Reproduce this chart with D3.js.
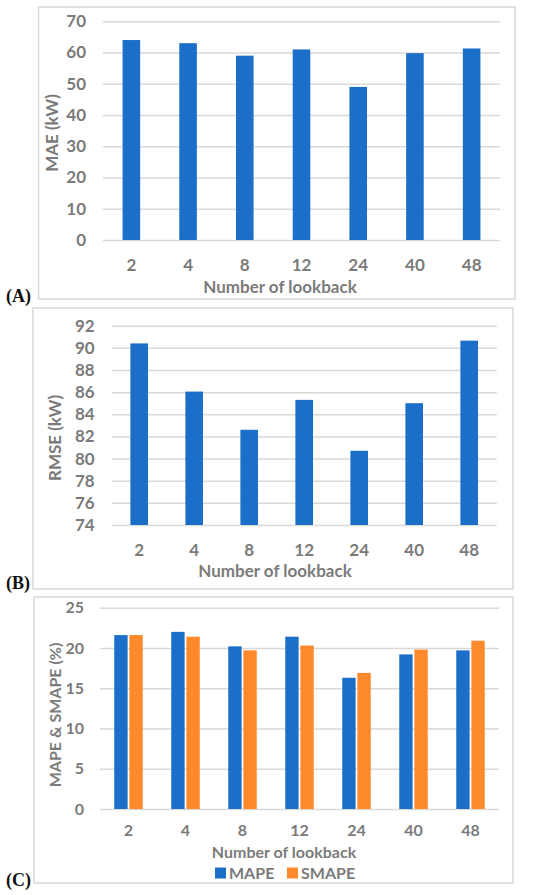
<!DOCTYPE html>
<html>
<head>
<meta charset="utf-8">
<script src="https://cdn.jsdelivr.net/npm/d3@7"></script>
<style>
  body { margin: 0; background: #fff; }
  svg { display: block; }
  text { font-family: Lato, "Open Sans", sans-serif; font-weight: 700; fill: #7b7b7b; }
  .panel-label { font-family: "Liberation Serif", "DejaVu Serif", serif; fill: #111; }
</style>
</head>
<body>
<svg id="chart" width="550" height="895"></svg>
<script>
// data
const lookbacks = ['2', '4', '8', '12', '24', '40', '48'];
const maeValues = [64.0, 63.0, 59.0, 61.0, 49.0, 59.8, 61.3];
const rmseValues = [90.4, 86.05, 82.6, 85.3, 80.7, 85.0, 90.65];
const mapeValues = [21.6, 22.0, 20.2, 21.4, 16.3, 19.2, 19.7];
const smapeValues = [21.6, 21.4, 19.7, 20.3, 16.9, 19.8, 20.9];
const seriesNames = ['MAPE', 'SMAPE'];

const maeTicks = [0, 10, 20, 30, 40, 50, 60, 70];
const rmseTicks = [74, 76, 78, 80, 82, 84, 86, 88, 90, 92];
const percentTicks = [0, 5, 10, 15, 20, 25];

const blue = '#1b6fc8';
const orange = '#ff8a2b';
const gridColor = '#d9d9d9';

const svg = d3.select('#chart');

// one framed chart area per panel
function drawPanel(p) {
    const g = svg.append('g');
    const fs = p.fontSize;

    g.append('rect')
        .attr('x', p.frame[0]).attr('y', p.frame[1])
        .attr('width', p.frame[2] - p.frame[0])
        .attr('height', p.frame[3] - p.frame[1])
        .attr('fill', '#fff')
        .attr('stroke', gridColor)
        .attr('stroke-width', 1.5);

    const [x0, y0, x1, y1] = p.plot;
    const y = d3.scaleLinear().domain(d3.extent(p.ticks)).range([y1, y0]);
    const x = d3.scaleBand().domain(lookbacks).range([x0, x1])
        .paddingInner(p.padding).paddingOuter(p.padding / 2);

    // y axis + gridlines
    const yAxis = g.append('g')
        .attr('transform', `translate(${x0},0)`)
        .call(d3.axisLeft(y).tickValues(p.ticks).tickSize(-(x1 - x0)).tickPadding(p.tickPad));
    yAxis.select('.domain').remove();
    yAxis.selectAll('line').attr('stroke', gridColor).attr('stroke-width', 1.5);
    yAxis.selectAll('text').attr('font-size', fs).attr('font-family', null);

    // x axis labels
    const xAxis = g.append('g')
        .attr('transform', `translate(0,${y1})`)
        .call(d3.axisBottom(x).tickSize(0).tickPadding(p.xPad));
    xAxis.select('.domain').remove();
    xAxis.selectAll('text').attr('font-size', fs).attr('font-family', null);

    // bars
    const xs = d3.scaleBand().domain(d3.range(p.series.length))
        .range([0, x.bandwidth()]).paddingInner(p.series.length > 1 ? 0.115 : 0);
    p.series.forEach((vals, s) => {
        g.selectAll(`rect.bar${s}`)
            .data(vals)
            .join('rect')
            .attr('class', `bar${s}`)
            .attr('x', (d, i) => x(lookbacks[i]) + xs(s))
            .attr('width', xs.bandwidth())
            .attr('y', d => y(d))
            .attr('height', d => y(y.domain()[0]) - y(d))
            .attr('fill', p.colors[s]);
    });

    // axis titles
    g.append('text')
        .attr('transform', `translate(${p.yTitle[0]},${p.yTitle[1]}) rotate(-90)`)
        .attr('text-anchor', 'middle')
        .attr('dy', '0.35em')
        .attr('font-size', fs)
        .text(p.yLabel);

    g.append('text')
        .attr('x', p.xTitle[0]).attr('y', p.xTitle[1])
        .attr('text-anchor', 'middle')
        .attr('dy', '0.35em')
        .attr('font-size', fs)
        .text('Number of lookback');

    // legend, only on the two-series chart
    if (p.legend) {
        const lg = g.append('g').attr('transform', `translate(${p.legend[0]},${p.legend[1]})`);
        const offsets = [0, 72];
        seriesNames.forEach((name, s) => {
            lg.append('rect')
                .attr('x', offsets[s]).attr('y', -5.5)
                .attr('width', 11).attr('height', 11)
                .attr('fill', p.colors[s]);
            lg.append('text')
                .attr('x', offsets[s] + 14)
                .attr('dy', '0.35em')
                .attr('font-size', fs)
                .text(name);
        });
    }

    svg.append('text')
        .attr('class', 'panel-label')
        .attr('x', 6).attr('y', p.labelY)
        .attr('font-size', 18)
        .text(p.label);
}

drawPanel({
    frame: [38.5, 7, 515, 299],
    plot: [103, 21.3, 500, 240],
    ticks: maeTicks,
    fontSize: 17,
    tickPad: 17,
    xPad: 19,
    padding: 0.69,
    series: [maeValues],
    colors: [blue],
    yLabel: 'MAE (kW)',
    yTitle: [52, 133],
    xTitle: [280, 287],
    label: '(A)',
    labelY: 302
});

drawPanel({
    frame: [33, 308, 513, 589],
    plot: [111.7, 325.7, 496.7, 525],
    ticks: rmseTicks,
    fontSize: 17,
    tickPad: 17,
    xPad: 19,
    padding: 0.68,
    series: [rmseValues],
    colors: [blue],
    yLabel: 'RMSE (kW)',
    yTitle: [55, 438],
    xTitle: [275, 571],
    label: '(B)',
    labelY: 589
});

drawPanel({
    frame: [34, 597, 513, 883],
    plot: [100, 607.7, 499, 809],
    ticks: percentTicks,
    fontSize: 16,
    tickPad: 16,
    xPad: 16,
    padding: 0.5,
    series: [mapeValues, smapeValues],
    colors: [blue, orange],
    yLabel: 'MAPE & SMAPE (%)',
    yTitle: [55, 715],
    xTitle: [284, 852],
    legend: [215, 873],
    label: '(C)',
    labelY: 886
});
</script>
</body>
</html>
